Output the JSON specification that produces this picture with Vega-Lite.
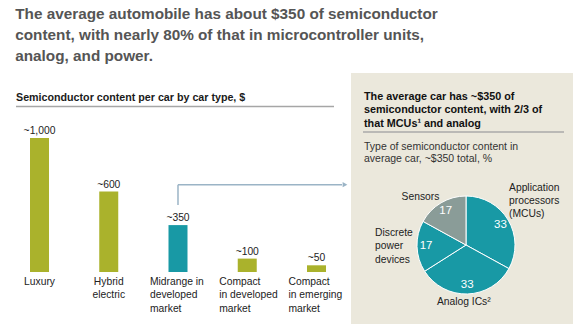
{
  "$schema": "https://vega.github.io/schema/vega-lite/v6.json",
  "background": "white",
  "padding": {"left": 15, "top": 7, "right": 8, "bottom": 8},
  "config": {"view": {"stroke": null}, "font": "Liberation Sans", "title": {"font": "Liberation Sans", "subtitleFont": "Liberation Sans"}},
  "title": {
    "text": ["The average automobile has about $350 of semiconductor", "content, with nearly 80% of that in microcontroller units,", "analog, and power."],
    "anchor": "start", "fontSize": 15.3, "fontWeight": "bold", "color": "#555555", "lineHeight": 20.7, "offset": 9
  },
  "bounds": "flush",
  "spacing": 17,
  "datasets": {
    "cars": [
      {"car": "Luxury", "name": "Luxury", "value": 1000, "label": "~1,000"},
      {"car": "Hybrid electric", "name": "Hybrid\nelectric", "value": 600, "label": "~600"},
      {"car": "Midrange in developed market", "name": "Midrange in\ndeveloped\nmarket", "value": 350, "label": "~350"},
      {"car": "Compact in developed market", "name": "Compact\nin developed\nmarket", "value": 100, "label": "~100"},
      {"car": "Compact in emerging market", "name": "Compact\nin emerging\nmarket", "value": 50, "label": "~50"}
    ],
    "mix": [
      {"type": "Application processors", "name": "Application\nprocessors\n(MCUs)", "pct": 33, "rank": 1},
      {"type": "Analog ICs", "name": "Analog ICs²", "pct": 33, "rank": 2},
      {"type": "Discrete power devices", "name": "Discrete\npower\ndevices", "pct": 17, "rank": 3},
      {"type": "Sensors", "name": "Sensors", "pct": 17, "rank": 4}
    ]
  },
  "hconcat": [
    {
      "width": 318, "height": 199,
      "title": {"text": "Semiconductor content per car by car type, $", "anchor": "start", "frame": "group", "offset": -31, "fontSize": 10.7, "fontWeight": "bold", "color": "#1a1a1a"},
      "data": {"name": "cars"},
      "layer": [
        {
          "mark": {"type": "bar"},
          "encoding": {
            "x": {"field": "car", "type": "nominal", "sort": null, "axis": null,
                  "scale": {"domain": ["Luxury", "Hybrid electric", "Midrange in developed market", "Compact in developed market", "Compact in emerging market"], "paddingInner": 0.7256, "paddingOuter": 0.159, "align": 0.636}},
            "y": {"field": "value", "type": "quantitative", "axis": null, "scale": {"domain": [0, 1485], "nice": false}},
            "color": {"condition": {"test": "datum.car === 'Midrange in developed market'", "value": "#1899a5"}, "value": "#aab22c"}
          }
        },
        {
          "mark": {"type": "text", "baseline": "alphabetic", "dy": -4, "fontSize": 10.3, "color": "#222222"},
          "encoding": {
            "x": {"field": "car", "type": "nominal", "sort": null},
            "y": {"field": "value", "type": "quantitative"},
            "text": {"field": "label"}
          }
        },
        {
          "transform": [{"filter": "datum.value >= 600"}],
          "mark": {"type": "text", "baseline": "top", "align": "center", "dy": 5, "fontSize": 10.3, "lineBreak": "\n", "lineHeight": 13.4, "color": "#222222"},
          "encoding": {
            "x": {"field": "car", "type": "nominal", "sort": null},
            "y": {"datum": 0},
            "text": {"field": "name"}
          }
        },
        {
          "transform": [{"filter": "datum.value < 600"}],
          "mark": {"type": "text", "baseline": "top", "align": "left", "dx": -28, "dy": 5, "fontSize": 10.3, "lineBreak": "\n", "lineHeight": 13.4, "color": "#222222"},
          "encoding": {
            "x": {"field": "car", "type": "nominal", "sort": null},
            "y": {"datum": 0},
            "text": {"field": "name"}
          }
        },
        {
          "data": {"values": [{}]},
          "mark": {"type": "rule", "color": "#a6a6a6", "strokeWidth": 1.5},
          "encoding": {"x": {"value": 0}, "x2": {"value": 318}, "y": {"datum": 1235}}
        },
        {
          "data": {"values": [{}]},
          "mark": {"type": "rule", "color": "#9bb4c6", "strokeWidth": 1.5},
          "encoding": {"x": {"datum": "Midrange in developed market"}, "y": {"datum": 500}, "y2": {"datum": 652}}
        },
        {
          "data": {"values": [{}]},
          "mark": {"type": "rule", "color": "#9bb4c6", "strokeWidth": 1.5},
          "encoding": {"x": {"datum": "Midrange in developed market"}, "x2": {"value": 326}, "y": {"datum": 652}}
        },
        {
          "data": {"values": [{}]},
          "mark": {"type": "point", "shape": "triangle-right", "filled": true, "size": 30, "color": "#9bb4c6", "opacity": 1},
          "encoding": {"x": {"value": 329}, "y": {"datum": 652}}
        }
      ]
    },
    {
      "width": 222, "height": 251,
      "view": {"fill": "#ebe8dc", "stroke": null},
      "title": {
        "text": ["The average car has ~$350 of", "semiconductor content, with 2/3 of", "that MCUs¹ and analog"],
        "subtitle": ["Type of semiconductor content in", "average car, ~$350 total, %"],
        "anchor": "start", "frame": "group", "offset": -91, "dx": 13,
        "fontSize": 10.8, "fontWeight": "bold", "color": "#111111", "lineHeight": 13.4,
        "subtitleFontSize": 10.5, "subtitleColor": "#333333", "subtitleLineHeight": 12, "subtitlePadding": 13
      },
      "layer": [
        {
          "data": {"values": [{}]},
          "mark": {"type": "rule", "color": "#aaaaaa", "strokeWidth": 1.5},
          "encoding": {"x": {"value": 12}, "x2": {"value": 213}, "y": {"value": 59}}
        },
        {
          "data": {"name": "mix"},
          "encoding": {
            "theta": {"field": "pct", "type": "quantitative", "stack": true},
            "order": {"field": "rank", "type": "quantitative"},
            "x": {"value": 115}, "y": {"value": 172}
          },
          "layer": [
            {
              "mark": {"type": "arc", "outerRadius": 49, "stroke": "white", "strokeWidth": 1},
              "encoding": {"color": {"field": "type", "type": "nominal", "legend": null,
                "scale": {"domain": ["Application processors", "Analog ICs", "Discrete power devices", "Sensors"], "range": ["#1899a5", "#1899a5", "#1899a5", "#8a9c98"]}}}
            },
            {
              "mark": {"type": "text", "radius": 40, "fontSize": 11.5, "color": "white"},
              "encoding": {"detail": {"field": "type"}, "text": {"field": "pct"}}
            },
            {
              "mark": {"type": "text", "radius": 50, "align": "left", "baseline": "middle", "dy": -32, "fontSize": 10.3, "lineBreak": "\n", "lineHeight": 13.4, "color": "#222222"},
              "encoding": {"detail": {"field": "type"}, "text": {"condition": {"test": "datum.type === 'Application processors'", "field": "name"}, "value": ""}}
            },
            {
              "mark": {"type": "text", "radius": 60, "align": "center", "baseline": "middle", "dx": -15, "dy": 4, "fontSize": 10.3, "color": "#222222"},
              "encoding": {"detail": {"field": "type"}, "text": {"condition": {"test": "datum.type === 'Sensors'", "field": "name"}, "value": ""}}
            },
            {
              "mark": {"type": "text", "radius": 91, "align": "left", "baseline": "middle", "dy": -15, "fontSize": 10.3, "lineBreak": "\n", "lineHeight": 13.4, "color": "#222222"},
              "encoding": {"detail": {"field": "type"}, "text": {"condition": {"test": "datum.type === 'Discrete power devices'", "field": "name"}, "value": ""}}
            },
            {
              "mark": {"type": "text", "radius": 57, "align": "center", "baseline": "middle", "dx": -4, "fontSize": 10.3, "color": "#222222"},
              "encoding": {"detail": {"field": "type"}, "text": {"condition": {"test": "datum.type === 'Analog ICs'", "field": "name"}, "value": ""}}
            }
          ]
        }
      ]
    }
  ]
}
